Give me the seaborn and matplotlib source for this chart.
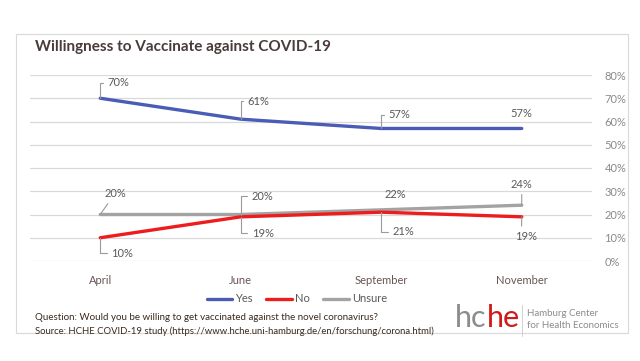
import seaborn as sns
import matplotlib.pyplot as plt
import pandas as pd
from matplotlib.patches import Rectangle
from matplotlib.lines import Line2D
from matplotlib.ticker import PercentFormatter

# data
months = ["April", "June", "September", "November"]
yes = [70, 61, 57, 57]
no = [10, 19, 21, 19]
unsure = [20, 20, 22, 24]
y_ticks = [0, 10, 20, 30, 40, 50, 60, 70, 80]

df = pd.DataFrame({
    "Month": months * 3,
    "Share": yes + no + unsure,
    "Answer": ["Yes"] * 4 + ["No"] * 4 + ["Unsure"] * 4,
})
df["pos"] = df["Month"].map({m: i for i, m in enumerate(months)})

sns.set_style("white")
plt.rcParams["font.family"] = ["Lato", "DejaVu Sans"]

colors = {"Yes": "#4a5cb5", "No": "#ee1c1c", "Unsure": "#a3a3a3"}

fig = plt.figure(figsize=(6.4, 3.61), dpi=100)
ax = fig.add_axes([30 / 640, 1 - 261 / 361, 562 / 640, 186 / 361])

sns.lineplot(data=df, x="pos", y="Share", hue="Answer", palette=colors,
             hue_order=["Unsure", "No", "Yes"], linewidth=2.4, legend=False, ax=ax)

ax.set_xlim(-0.5, 3.5)
ax.set_ylim(0, 80)
ax.set_yticks(y_ticks)
ax.yaxis.set_major_formatter(PercentFormatter(decimals=0))
ax.yaxis.tick_right()
ax.set_xticks(range(len(months)))
ax.set_xticklabels(months)
ax.tick_params(axis="y", length=0, pad=9, labelsize=8, labelcolor="#8a8a8a")
ax.tick_params(axis="x", length=0, pad=10, labelsize=8, labelcolor="#6a5454")
ax.grid(axis="y", color="#d9d9d9", linewidth=0.9)
ax.set_axisbelow(True)
for s in ax.spines.values():
    s.set_visible(False)
ax.set_xlabel("")
ax.set_ylabel("")

# data labels with leader lines (offsets in points)
lab_kw = dict(fontsize=8, color="#595959", va="center")
leader = dict(arrowstyle="-", color="#9a9a9a", lw=0.8, shrinkA=1, shrinkB=0)

def label(i, v, dx, dy, conn=None, ha="left", rel=(0, 0.5)):
    if conn is None:
        ax.annotate(f"{v}%", (i, v), xytext=(dx, dy), textcoords="offset points",
                    ha=ha, **lab_kw)
    else:
        ax.annotate(f"{v}%", (i, v), xytext=(dx, dy), textcoords="offset points",
                    ha=ha, arrowprops=dict(connectionstyle=conn,
                                           relpos=rel, **leader), **lab_kw)

angle_up = "angle,angleA=0,angleB=90,rad=0"
label(0, yes[0], 5, 11, angle_up)
label(1, yes[1], 5, 13, angle_up)
label(2, yes[2], 5, 10, angle_up)
label(3, yes[3], 0, 11, ha="center")

label(0, no[0], 8, -11, angle_up)
label(1, no[1], 8, -12, angle_up)
label(2, no[2], 8, -14, angle_up)
label(3, no[3], 3, -14, "arc3", ha="center", rel=(0.3, 1))

label(0, unsure[0], 3, 15, "arc3", rel=(0.3, 0))
label(1, unsure[1], 8, 13, angle_up)
label(2, unsure[2], 10, 11, ha="center")
label(3, unsure[3], 0, 15, "arc3", ha="center", rel=(0.5, 0))

# legend
handles = [Line2D([], [], color=colors[k], lw=2.4) for k in ["Yes", "No", "Unsure"]]
fig.legend(handles, ["Yes", "No", "Unsure"], loc="center", bbox_to_anchor=(297 / 640, 1 - 299 / 361),
           ncol=3, frameon=False, fontsize=8, handlelength=2.3, handletextpad=0.3,
           columnspacing=1.2, labelcolor="#595959")

# title and frame
fig.text(35 / 640, 1 - 47 / 361, "Willingness to Vaccinate against COVID-19", fontsize=11,
         fontweight="bold", color="#4a3b3b", va="center")
fig.patches.append(Rectangle((16 / 640, 1 - 333 / 361), 612 / 640, 299 / 361,
                             transform=fig.transFigure, fill=False, edgecolor="#d9d9d9", lw=0.8))

# footer
fig.text(35 / 640, 1 - 318 / 361,
         "Question: Would you be willing to get vaccinated against the novel coronavirus?",
         fontsize=7, color="#3b2a1e", va="center")
fig.text(35 / 640, 1 - 331 / 361,
         "Source: HCHE COVID-19 study (https://www.hche.uni-hamburg.de/en/forschung/corona.html)",
         fontsize=6.8, color="#3b2a1e", va="center")

# hche logo
hc = fig.text(455 / 640, 1 - 327 / 361, "hc", fontsize=22, color="#8c8c8c", va="baseline")
ax.annotate("he", xy=(1, 0), xycoords=hc, xytext=(0.3, 0), textcoords="offset points",
            fontsize=22, color="#d11a1a", va="bottom", annotation_clip=False)
fig.add_artist(Line2D([522 / 640, 522 / 640], [1 - 336 / 361, 1 - 305 / 361],
                      transform=fig.transFigure, color="#d0d0d0", lw=0.7))
fig.text(527 / 640, 1 - 313 / 361, "Hamburg Center", fontsize=7, color="#8c8c8c", va="center")
fig.text(527 / 640, 1 - 325 / 361, "for Health Economics", fontsize=7, color="#8c8c8c", va="center")

fig.savefig("out.png", dpi=100)
